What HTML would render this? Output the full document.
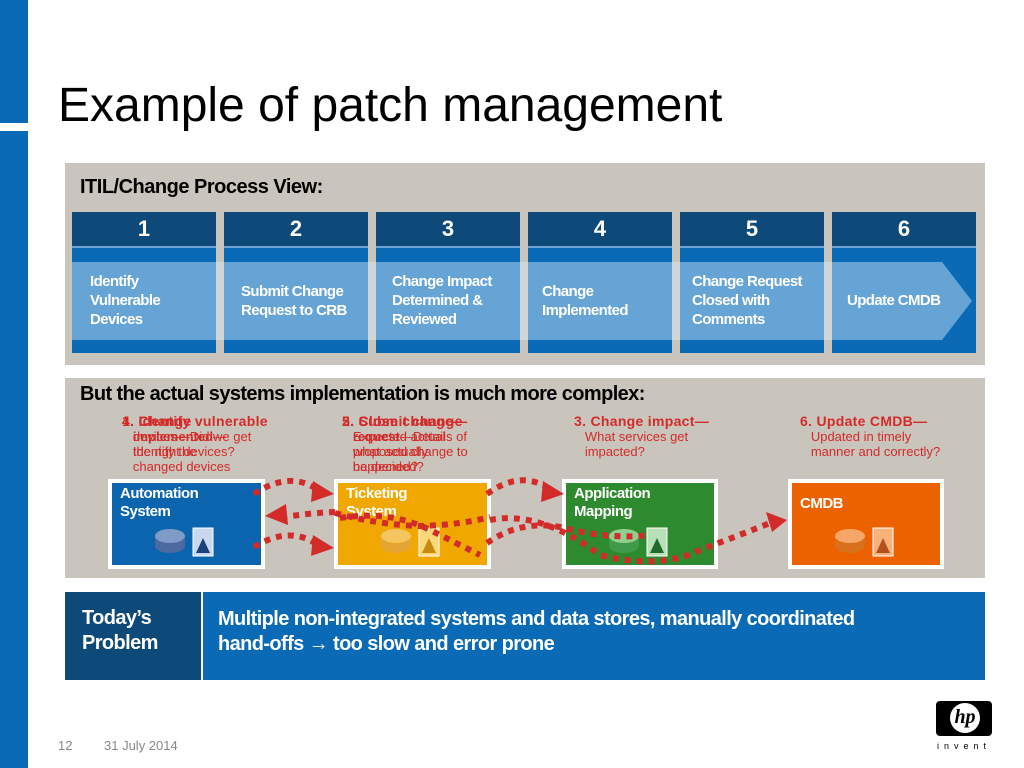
<!DOCTYPE html>
<html><head><meta charset="utf-8"><style>
*{margin:0;padding:0;box-sizing:border-box}
body{width:1024px;height:768px;position:relative;background:#fff;font-family:"Liberation Sans",sans-serif;overflow:hidden}
.a{position:absolute}
.hd{background:#0d4a7a;color:#fff;font-weight:bold;font-size:22px;text-align:center;line-height:34px;border-bottom:2px solid #6fa6d6}
.bd{background:#0a6ab5}
.st{color:#fff;font-weight:bold;font-size:15px;line-height:19px;letter-spacing:-0.6px}
.rt{color:#d32a2a;font-size:13px;line-height:15px}
.rb{font-weight:bold;font-size:14px;letter-spacing:0.3px}
.bx{border:4px solid #fff;color:#fff;font-weight:bold;font-size:15px;line-height:18px;padding:2px 8px;letter-spacing:-0.5px}
</style></head><body>
<div class="a" style="left:0;top:0;width:28px;height:123px;background:#0a6ab5"></div>
<div class="a" style="left:0;top:131px;width:28px;height:637px;background:#0a6ab5"></div>
<div class="a" style="left:58px;top:78px;font-size:48px;color:#000;letter-spacing:0">Example of patch management</div>

<div class="a" style="left:65px;top:163px;width:920px;height:202px;background:#c9c5bc"></div>
<div class="a" style="left:80px;top:176px;font-size:20px;font-weight:bold;letter-spacing:-0.5px">ITIL/Change Process View:</div>
<div class="a hd" style="left:72px;top:212px;width:144px;height:36px">1</div>
<div class="a hd" style="left:224px;top:212px;width:144px;height:36px">2</div>
<div class="a hd" style="left:376px;top:212px;width:144px;height:36px">3</div>
<div class="a hd" style="left:528px;top:212px;width:144px;height:36px">4</div>
<div class="a hd" style="left:680px;top:212px;width:144px;height:36px">5</div>
<div class="a hd" style="left:832px;top:212px;width:144px;height:36px">6</div>
<div class="a bd" style="left:72px;top:248px;width:144px;height:105px"></div>
<div class="a bd" style="left:224px;top:248px;width:144px;height:105px"></div>
<div class="a bd" style="left:376px;top:248px;width:144px;height:105px"></div>
<div class="a bd" style="left:528px;top:248px;width:144px;height:105px"></div>
<div class="a bd" style="left:680px;top:248px;width:144px;height:105px"></div>
<div class="a bd" style="left:832px;top:248px;width:144px;height:105px"></div>
<svg class="a" style="left:0;top:0" width="1024" height="768"><polygon points="72,262 942,262 972,301 942,340 72,340" fill="#d6ebff" fill-opacity="0.45"/></svg>
<div class="a st" style="left:90px;top:272px">Identify<br>Vulnerable<br>Devices</div>
<div class="a st" style="left:241px;top:282px">Submit Change<br>Request to CRB</div>
<div class="a st" style="left:392px;top:272px">Change Impact<br>Determined &amp;<br>Reviewed</div>
<div class="a st" style="left:542px;top:282px">Change<br>Implemented</div>
<div class="a st" style="left:692px;top:272px">Change Request<br>Closed with<br>Comments</div>
<div class="a st" style="left:847px;top:291px">Update CMDB</div>

<div class="a" style="left:65px;top:378px;width:920px;height:200px;background:#c9c5bc"></div>
<div class="a" style="left:80px;top:383px;font-size:20px;font-weight:bold;letter-spacing:-0.6px">But the actual systems implementation is much more complex:</div>

<div class="a rt" style="left:122px;top:414px"><span class="rb">1. Identify vulnerable</span><br>&nbsp;&nbsp;&nbsp;devices—Did we get<br>&nbsp;&nbsp;&nbsp;the right devices?</div>
<div class="a rt" style="left:122px;top:414px"><span class="rb">4. Change</span><br>&nbsp;&nbsp;&nbsp;<b>implemented</b>—<br>&nbsp;&nbsp;&nbsp;Identify the<br>&nbsp;&nbsp;&nbsp;changed devices</div>
<div class="a rt" style="left:342px;top:414px"><span class="rb">2. Submit change</span><br>&nbsp;&nbsp;&nbsp;<b>request</b>—Details of<br>&nbsp;&nbsp;&nbsp;proposed change to<br>&nbsp;&nbsp;&nbsp;be decided?</div>
<div class="a rt" style="left:342px;top:414px"><span class="rb">5. Close change—</span><br>&nbsp;&nbsp;&nbsp;Expected actual<br>&nbsp;&nbsp;&nbsp;what actually<br>&nbsp;&nbsp;&nbsp;happened?</div>
<div class="a rt" style="left:574px;top:414px"><span class="rb">3. Change impact—</span><br>&nbsp;&nbsp;&nbsp;What services get<br>&nbsp;&nbsp;&nbsp;impacted?</div>
<div class="a rt" style="left:800px;top:414px"><span class="rb">6. Update CMDB—</span><br>&nbsp;&nbsp;&nbsp;Updated in timely<br>&nbsp;&nbsp;&nbsp;manner and correctly?</div>

<div class="a bx" style="left:108px;top:479px;width:157px;height:90px;background:#0a64ae">Automation<br>System</div>
<div class="a bx" style="left:334px;top:479px;width:157px;height:90px;background:#f0a800">Ticketing<br>System</div>
<div class="a bx" style="left:562px;top:479px;width:156px;height:90px;background:#2e8a2e">Application<br>Mapping</div>
<div class="a bx" style="left:788px;top:479px;width:156px;height:90px;background:#ec6100;padding-top:12px">CMDB</div>

<svg class="a" style="left:0;top:0" width="1024" height="768">
<g>
<ellipse cx="170" cy="546" rx="15" ry="7" fill="#4a6aa0"/><rect x="155" y="536" width="30" height="10" fill="#4a6aa0"/><ellipse cx="170" cy="536" rx="15" ry="7" fill="#7f9cc8"/>
<rect x="193" y="528" width="20" height="28" fill="#c8d8ef" stroke="#fff"/><path d="M196 553 L203 538 L210 553Z" fill="#1d3f7a"/>
<ellipse cx="396" cy="546" rx="15" ry="7" fill="#e6a430"/><rect x="381" y="536" width="30" height="10" fill="#e6a430"/><ellipse cx="396" cy="536" rx="15" ry="7" fill="#f7c560"/>
<rect x="419" y="528" width="20" height="28" fill="#fbd77a" stroke="#fff"/><path d="M422 553 L429 538 L436 553Z" fill="#c78a10"/>
<ellipse cx="624" cy="546" rx="15" ry="7" fill="#3f9a4a"/><rect x="609" y="536" width="30" height="10" fill="#3f9a4a"/><ellipse cx="624" cy="536" rx="15" ry="7" fill="#8fcf8f"/>
<rect x="647" y="528" width="20" height="28" fill="#b7e0b7" stroke="#fff"/><path d="M650 553 L657 538 L664 553Z" fill="#1f6a2a"/>
<ellipse cx="850" cy="546" rx="15" ry="7" fill="#d8701c"/><rect x="835" y="536" width="30" height="10" fill="#d8701c"/><ellipse cx="850" cy="536" rx="15" ry="7" fill="#f5a668"/>
<rect x="873" y="528" width="20" height="28" fill="#f6b27a" stroke="#fff"/><path d="M876 553 L883 538 L890 553Z" fill="#b4501a"/>
</g>
<g fill="none" stroke="#d32a2a" stroke-width="6" stroke-dasharray="6,6">
<path d="M254 494 Q290 470 318 490"/>
<path d="M254 547 Q290 525 318 545"/>
<path d="M335 512 Q310 513 285 517"/>
<path d="M335 513 Q380 525 420 526 Q460 525 490 517"/>
<path d="M340 518 Q390 510 430 530 Q470 550 480 555"/>
<path d="M487 494 Q520 470 548 488"/>
<path d="M487 543 Q520 520 560 527 Q610 540 650 535"/>
<path d="M490 520 Q540 510 600 555 Q660 570 700 550 Q740 535 770 523"/>
</g>
<g fill="#d32a2a">
<polygon points="334,494 313,481 311,502"/>
<polygon points="334,548 313,535 311,556"/>
<polygon points="265,516 286,504 288,525"/>
<polygon points="564,494 543,481 541,502"/>
<polygon points="787,520 766,512 772,532"/>
</g>
</svg>

<div class="a" style="left:65px;top:592px;width:136px;height:88px;background:#0d4a7a;color:#fff;font-weight:bold;font-size:20px;line-height:25px;padding:14px 0 0 17px;letter-spacing:-0.6px">Today’s<br>Problem</div>
<div class="a" style="left:203px;top:592px;width:782px;height:88px;background:#0a6ab5;color:#fff;font-weight:bold;font-size:20px;line-height:25px;padding:15px 0 0 15px;letter-spacing:-0.6px">Multiple non-integrated systems and data stores, manually coordinated<br>hand-offs → too slow and error prone</div>

<div class="a" style="left:58px;top:738px;font-size:13px;color:#888">12</div>
<div class="a" style="left:104px;top:738px;font-size:13px;color:#888">31 July 2014</div>
<div class="a" style="left:936px;top:701px;width:56px;height:35px;background:#000;border-radius:4px"></div>
<div class="a" style="left:950px;top:703px;width:30px;height:30px;border-radius:50%;background:#fff;color:#000;font-style:italic;font-weight:bold;font-size:20px;text-align:center;line-height:28px;font-family:'Liberation Serif',serif">hp</div>
<div class="a" style="left:937px;top:741px;font-size:9px;letter-spacing:5px;color:#000">invent</div>
</body></html>
